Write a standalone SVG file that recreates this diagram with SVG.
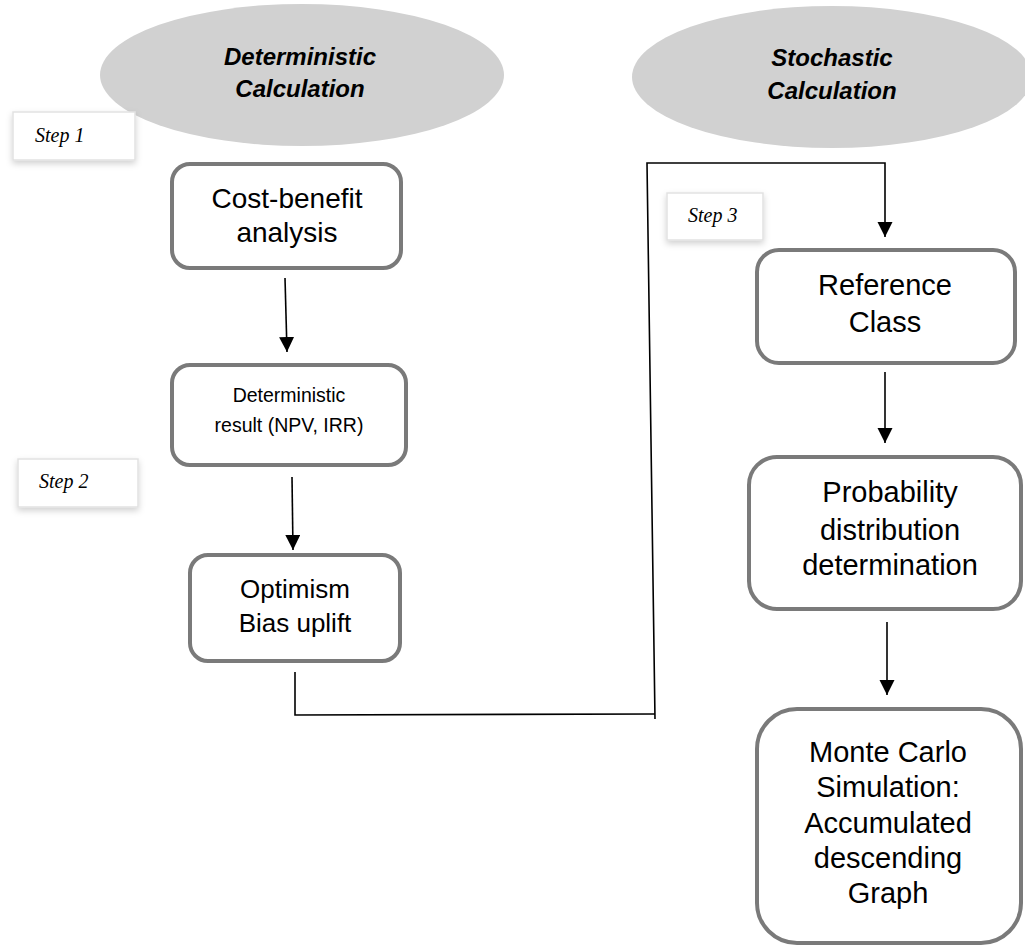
<svg xmlns="http://www.w3.org/2000/svg" width="1025" height="948" viewBox="0 0 1025 948">
  <defs>
    <marker id="arrow" markerUnits="userSpaceOnUse" markerWidth="16" markerHeight="16" viewBox="0 0 16 16" refX="15" refY="7.5" orient="auto">
      <path d="M0,0 L15,7.5 L0,15 z" fill="#000"/>
    </marker>
    <filter id="shadow" x="-20%" y="-30%" width="140%" height="170%">
      <feDropShadow dx="0" dy="3" stdDeviation="3" flood-color="#000" flood-opacity="0.18"/>
    </filter>
  </defs>
  <style>
    .hdr { fill: #d1d1d1; }
    .hdrtxt { font-family: "Liberation Sans", Arial, sans-serif; font-weight: bold; font-style: italic; font-size: 24px; fill: #000; text-anchor: middle; }
    .box { fill: #fff; stroke: #7a7a7a; stroke-width: 4; }
    .txt { font-family: "Liberation Sans", Arial, sans-serif; fill: #000; text-anchor: middle; }
    .step { fill: #fff; stroke: #e2e2e2; stroke-width: 1.5; filter: url(#shadow); }
    .steptxt { font-family: "Liberation Serif", "Times New Roman", serif; font-style: italic; font-size: 20px; fill: #000; }
    .conn { fill: none; stroke: #000; stroke-width: 1.6; }
  </style>

  <g id="header-deterministic">
    <ellipse class="hdr" cx="302" cy="75" rx="202" ry="71"/>
    <text class="hdrtxt" x="300" y="65">Deterministic</text>
    <text class="hdrtxt" x="300" y="97">Calculation</text>
  </g>
  <g id="header-stochastic">
    <ellipse class="hdr" cx="832" cy="77" rx="200" ry="71"/>
    <text class="hdrtxt" x="832" y="66">Stochastic</text>
    <text class="hdrtxt" x="832" y="99">Calculation</text>
  </g>

  <g id="step1">
    <rect class="step" x="13" y="112" width="122" height="48"/>
    <text class="steptxt" x="35" y="142">Step 1</text>
  </g>
  <g id="step2">
    <rect class="step" x="18" y="459" width="120" height="48"/>
    <text class="steptxt" x="39" y="488">Step 2</text>
  </g>
  <g id="step3">
    <rect class="step" x="667" y="193" width="96" height="47"/>
    <text class="steptxt" x="688" y="222">Step 3</text>
  </g>

  <g id="connectors">
    <line class="conn" x1="285" y1="278" x2="287" y2="352" marker-end="url(#arrow)"/>
    <line class="conn" x1="292" y1="477" x2="293" y2="550" marker-end="url(#arrow)"/>
    <path class="conn" d="M295 672 L295 715 L655 714"/>
    <path class="conn" d="M655 719 L647 163 L885 163 L885 237" marker-end="url(#arrow)"/>
    <line class="conn" x1="885" y1="372" x2="885" y2="443" marker-end="url(#arrow)"/>
    <line class="conn" x1="887" y1="622" x2="887" y2="695" marker-end="url(#arrow)"/>
  </g>

  <g id="cost-benefit">
    <rect class="box" x="172" y="164" width="229" height="104" rx="18"/>
    <text class="txt" x="287" y="208" font-size="28">Cost-benefit</text>
    <text class="txt" x="287" y="242" font-size="28">analysis</text>
  </g>
  <g id="deterministic-result">
    <rect class="box" x="172" y="365" width="234" height="100" rx="18"/>
    <text class="txt" x="289" y="402" font-size="19.5">Deterministic</text>
    <text class="txt" x="289" y="432" font-size="19.5">result (NPV, IRR)</text>
  </g>
  <g id="optimism">
    <rect class="box" x="190" y="555" width="210" height="106" rx="18"/>
    <text class="txt" x="295" y="598" font-size="26">Optimism</text>
    <text class="txt" x="295" y="632" font-size="26">Bias uplift</text>
  </g>
  <g id="reference-class">
    <rect class="box" x="757" y="250" width="258" height="113" rx="22"/>
    <text class="txt" x="885" y="295" font-size="29">Reference</text>
    <text class="txt" x="885" y="332" font-size="29">Class</text>
  </g>
  <g id="probability">
    <rect class="box" x="749" y="457" width="272" height="152" rx="28"/>
    <text class="txt" x="890" y="502" font-size="29">Probability</text>
    <text class="txt" x="890" y="540" font-size="29">distribution</text>
    <text class="txt" x="890" y="575" font-size="29">determination</text>
  </g>
  <g id="monte-carlo">
    <rect class="box" x="757" y="709" width="264" height="234" rx="40"/>
    <text class="txt" x="888" y="762" font-size="29">Monte Carlo</text>
    <text class="txt" x="888" y="797" font-size="29">Simulation:</text>
    <text class="txt" x="888" y="833" font-size="29">Accumulated</text>
    <text class="txt" x="888" y="868" font-size="29">descending</text>
    <text class="txt" x="888" y="903" font-size="29">Graph</text>
  </g>
</svg>
